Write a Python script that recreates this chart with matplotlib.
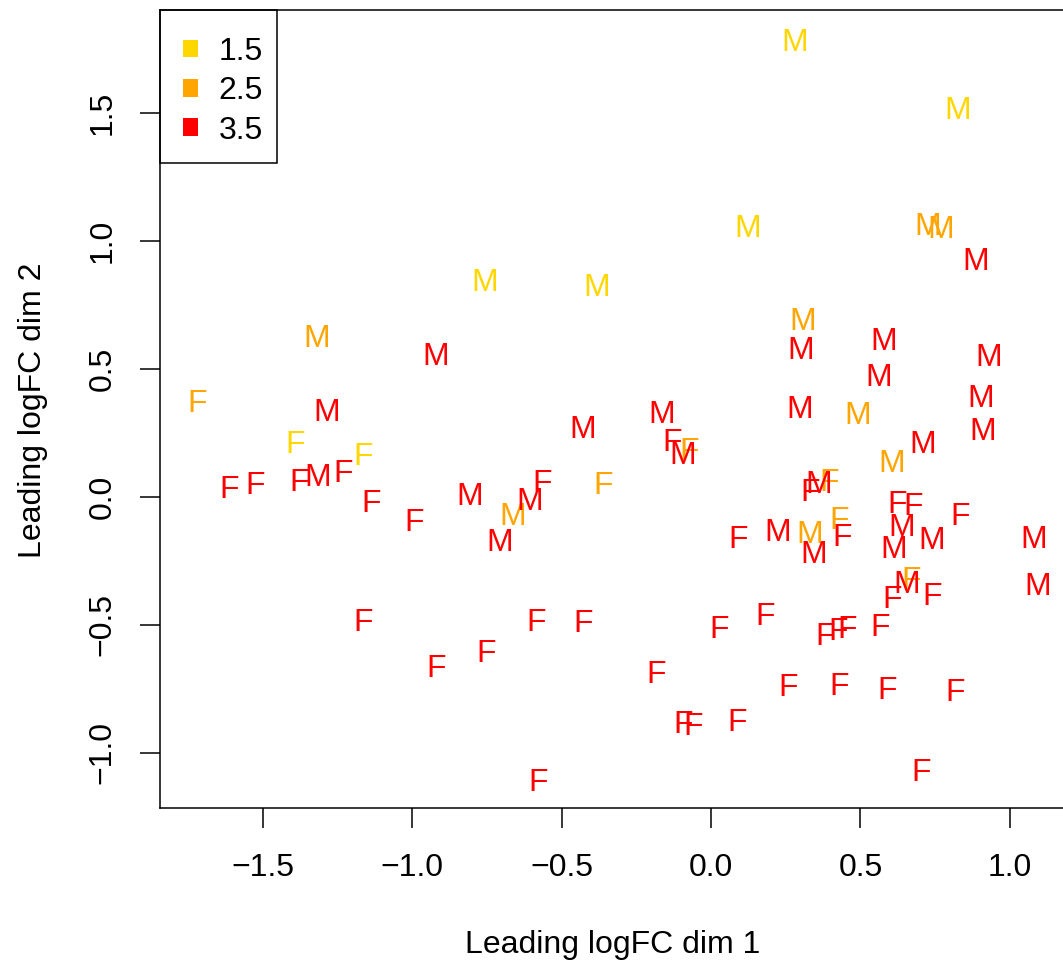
import matplotlib
matplotlib.use("Agg")
import matplotlib.pyplot as plt
from matplotlib.patches import Patch, Rectangle
from matplotlib.transforms import offset_copy

plt.rcParams['font.family'] = ['Liberation Sans', 'DejaVu Sans']

# MDS coordinates, grouped by colour level
dim1_15 = [0.281, 0.827, 0.124, -0.757, -0.383, -1.393, -1.165]
dim2_15 = [1.785, 1.520, 1.059, 0.850, 0.828, 0.215, 0.168]
sex_15 = ["M", "M", "M", "M", "M", "F", "F"]

dim1_25 = [-1.322, -1.722, 0.726, 0.770, 0.305, 0.489, 0.603, 0.395, 0.429,
           0.331, 0.670, -0.360, -0.663, -0.075]
dim2_25 = [0.629, 0.377, 1.070, 1.055, 0.699, 0.328, 0.141, 0.070, -0.082,
           -0.133, -0.313, 0.057, -0.063, 0.188]
sex_25 = ["M", "F", "M", "M", "M", "M", "M", "F", "F", "M", "F", "F", "M", "F"]

dim1_35 = [-0.922, -1.287, -1.614, -1.527, -1.378, -1.318, -1.233, -1.139, -0.994,
           -0.807, -0.709, -0.608, -0.567, -0.431, -0.164, -0.129, -0.095, 0.089,
           0.301, 0.296, 0.577, 0.560, 0.928, 0.901, 0.910, 0.707, 0.887,
           0.359, 0.331, 0.222, 0.342, 0.438, 0.621, 0.677, 0.638, 0.610, 0.739,
           0.834, 1.079, 0.655, 1.093, 0.605, 0.739, 0.181, 0.028, 0.382, 0.426,
           0.454, 0.566, -0.184, -0.093, -0.061, 0.086, 0.257, 0.429, 0.588, 0.817,
           0.702, -1.166, -0.921, -0.753, -0.586, -0.427, -0.578]
dim2_35 = [0.561, 0.340, 0.040, 0.056, 0.069, 0.086, 0.105, -0.012, -0.087,
           0.014, -0.168, -0.005, 0.066, 0.277, 0.333, 0.225, 0.172, -0.155,
           0.583, 0.355, 0.620, 0.480, 0.555, 0.398, 0.268, 0.216, 0.932,
           0.060, 0.031, -0.129, -0.214, -0.148, -0.018, -0.025, -0.107, -0.194, -0.160,
           -0.064, -0.155, -0.331, -0.338, -0.389, -0.379, -0.454, -0.507, -0.535, -0.513,
           -0.507, -0.500, -0.682, -0.878, -0.884, -0.871, -0.734, -0.728, -0.745, -0.751,
           -1.063, -0.477, -0.659, -0.598, -0.477, -0.483, -1.105]
sex_35 = ["M", "M", "F", "F", "F", "M", "F", "F", "F",
          "M", "M", "M", "F", "M", "M", "F", "M", "F",
          "M", "M", "M", "M", "M", "M", "M", "M", "M",
          "M", "F", "M", "M", "F", "F", "F", "M", "M", "M",
          "F", "M", "M", "M", "F", "F", "F", "F", "F", "F",
          "F", "F", "F", "F", "F", "F", "F", "F", "F", "F",
          "F", "F", "F", "F", "F", "F", "F"]

levels = ["1.5", "2.5", "3.5"]
level_colors = ["#FFD700", "#FFA500", "#FF0000"]

groups = [(dim1_15, dim2_15, sex_15), (dim1_25, dim2_25, sex_25), (dim1_35, dim2_35, sex_35)]

fs = 23
fig = plt.figure(figsize=(10.63, 9.64), dpi=100)
W, H = 1063, 964
axw, axh = 906, 798
ax = fig.add_axes([160 / W, (H - 808) / H, axw / W, axh / H])

# shift text so the glyph (cap height) is centred on the point
trans = offset_copy(ax.transData, fig=fig, y=-8.3, units='points')
for (xs, ys, ss), col in zip(groups, level_colors):
    for x, y, s in zip(xs, ys, ss):
        ax.text(x, y, s, color=col, fontsize=fs, ha='center', va='baseline',
                transform=trans)

ax.set_xlim(-1.845, 1.188)
ax.set_ylim(-1.215, 1.902)
ax.set_xticks([-1.5, -1.0, -0.5, 0.0, 0.5, 1.0])
ax.set_yticks([-1.0, -0.5, 0.0, 0.5, 1.0, 1.5])
ax.tick_params(axis='both', labelsize=fs, length=14.4, width=1.1)
ax.tick_params(axis='x', pad=18)
ax.tick_params(axis='y', labelrotation=90, pad=16)
for lab in ax.get_yticklabels():
    lab.set_va('center')
for sp in ax.spines.values():
    sp.set_linewidth(1.1)

ax.set_xlabel("Leading logFC dim 1", fontsize=fs)
ax.set_ylabel("Leading logFC dim 2", fontsize=fs)
ax.xaxis.set_label_coords(0.5, -0.172)
ax.yaxis.set_label_coords(-0.140, 0.499)
ax.xaxis.label.set_va('center')
ax.yaxis.label.set_va('center')

# legend: squares + labels, with a separate square-cornered box like R's
handles = [Patch(facecolor=c, edgecolor='none') for c in level_colors]
leg = ax.legend(handles, levels, loc='upper left', fontsize=fs, frameon=False,
                bbox_to_anchor=(0, 1 - 4 / axh), borderaxespad=0,
                handlelength=0.47, handleheight=0.47,
                handletextpad=0.65, labelspacing=0.29, borderpad=0.72)
ax.add_patch(Rectangle((0, 1 - 153 / axh), 117 / axw, 153 / axh,
                       transform=ax.transAxes, fill=False, edgecolor='black',
                       linewidth=1.1, clip_on=False, zorder=5))

fig.savefig("out.png", dpi=100)
